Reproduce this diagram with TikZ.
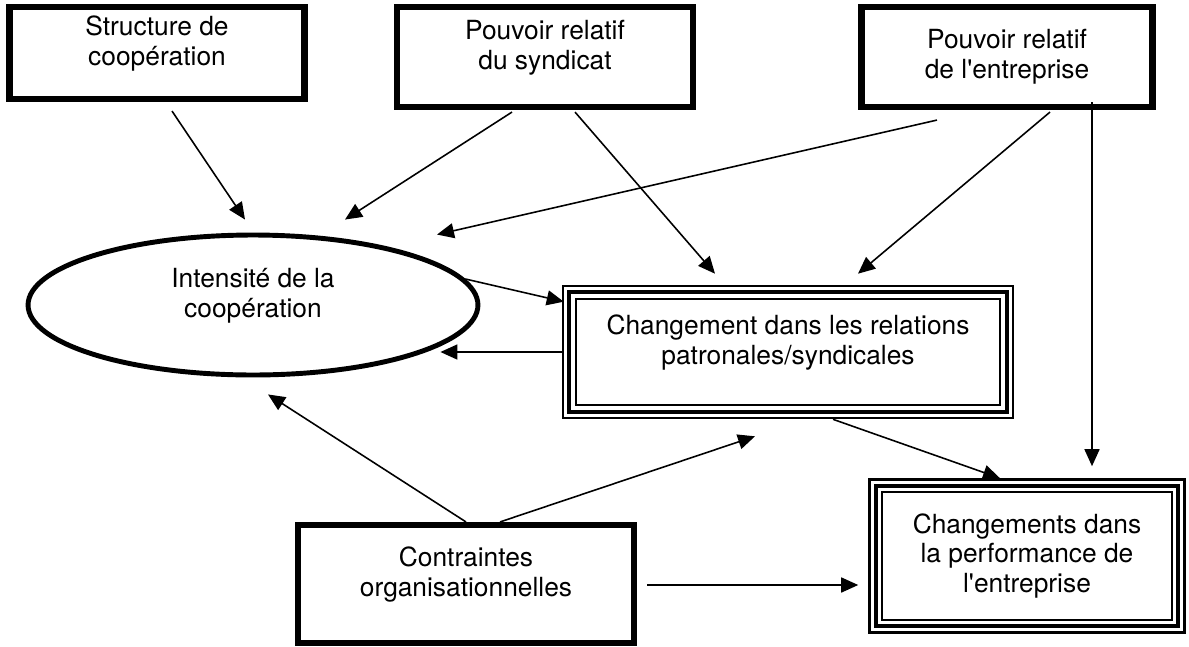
\documentclass[tikz,border=0pt]{standalone}
\usepackage{fontspec}
\setmainfont{TeX Gyre Heros}
\usetikzlibrary{arrows.meta,shapes.geometric}
\newcommand{\lift}[1]{\raisebox{5pt}[\height][\depth]{\begin{tabular}{@{}c@{}}#1\end{tabular}}}
\begin{document}
\begin{tikzpicture}[x=0.02cm,y=-0.02cm,font=\fontsize{15}{17}\selectfont]
\tikzset{b/.style={draw,rectangle,line width=3.5pt,align=center,inner sep=0pt},
t/.style={draw,rectangle,line width=1.5pt,align=center,inner sep=0pt},
a/.style={-{Triangle[length=3.4mm,width=3mm]},line width=0.9pt}}
\useasboundingbox(0,0)rectangle(1189,646);
%% boites du haut
\path(157,53)node[b,minimum width=5.9cm,minimum height=1.84cm](S){\lift{Structure de\\coopération}}
(545,57)node[b,minimum width=5.92cm,minimum height=2cm](PS){\lift{Pouvoir relatif\\du syndicat}}
(1007,57)node[b,minimum width=5.82cm,minimum height=2cm](PE){Pouvoir relatif\\de l\textquotesingle entreprise};
%% milieu et bas
\path(253,305)node[ellipse,draw,line width=2.8pt,minimum width=9cm,minimum height=2.8cm,inner sep=0pt](C){\lift{Intensité de la\\coopération}}
(788,352)node[t,minimum width=9cm,minimum height=2.64cm](CH){\lift{Changement dans les relations\\patronales/syndicales}}
(1027,556)node[t,minimum width=6.3cm,minimum height=3.06cm](PF){Changements dans\\la performance de\\l\textquotesingle entreprise}
(466,584)node[b,minimum width=6.72cm,minimum height=2.36cm](CO){\lift{Contraintes\\organisationnelles}};
\foreach \n in {CH,PF}{
\draw[line width=2.3pt]([shift={(4.2pt,-4.2pt)}]\n.north west)rectangle([shift={(-4.2pt,4.2pt)}]\n.south east);
\draw[line width=1.2pt]([shift={(8pt,-8pt)}]\n.north west)rectangle([shift={(-8pt,8pt)}]\n.south east);}
%% fleches
\draw[a]([shift={(15,9)}]S.south)--([shift={(-8,-13)}]C.north);
\draw[a]([shift={(-33,2)}]PS.south)--([shift={(92,-13)}]C.north);
\draw[a]([shift={(30,2)}]PS.south)--([shift={(-73,-11)}]CH.north);
\draw[a]([shift={(-70,10)}]PE.south)--([shift={(184,2)}]C.north);
\draw[a]([shift={(43,2)}]PE.south)--([shift={(70,-11)}]CH.north);
\draw[a]([shift={(85,-8)}]PE.south)--([shift={(65,-12)}]PF.north);
\draw[a](C.7)--([shift={(2,17)}]CH.north west);
\draw[a](CH.west)--([shift={(-40,47)}]C.east);
\draw[a](CO.north)--([shift={(15,17)}]C.south);
\draw[a]([shift={(34,0)}]CO.north)--([shift={(-33,17)}]CH.south);
\draw[a]([shift={(45,0)}]CH.south)--([shift={(-27,0)}]PF.north);
\draw[a]([shift={(10,1)}]CO.east)--([shift={(-10,29)}]PF.west);
\end{tikzpicture}
\end{document}
